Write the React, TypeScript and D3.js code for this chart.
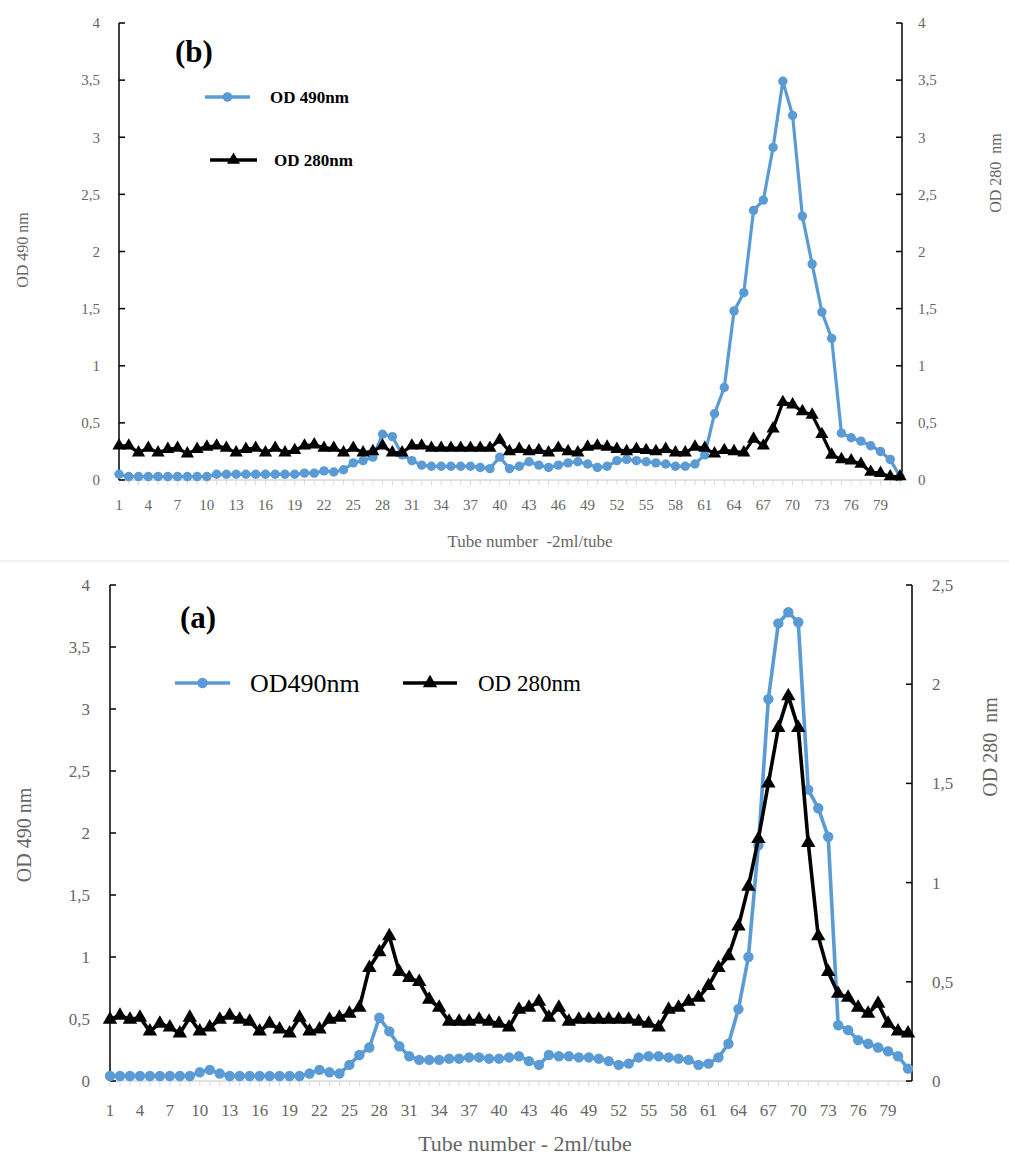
import React, { useEffect, useRef } from 'react';
import * as d3 from 'd3';

// tube numbers 1..81
const tubes = d3.range(1, 82);
const tubeTicks = d3.range(1, 80, 3);

// panel (b) - top
const bOD490 = [
  0.05, 0.03, 0.03, 0.03, 0.03, 0.03, 0.03, 0.03, 0.03, 0.03,
  0.05, 0.05, 0.05, 0.05, 0.05, 0.05, 0.05, 0.05, 0.05, 0.06,
  0.06, 0.08, 0.07, 0.09, 0.15, 0.17, 0.2, 0.4, 0.38, 0.22,
  0.17, 0.13, 0.12, 0.12, 0.12, 0.12, 0.12, 0.11, 0.1, 0.2,
  0.1, 0.12, 0.16, 0.13, 0.11, 0.13, 0.15, 0.16, 0.14, 0.11,
  0.12, 0.17, 0.18, 0.17, 0.16, 0.15, 0.14, 0.12, 0.12, 0.14,
  0.22, 0.58, 0.81, 1.48, 1.64, 2.36, 2.45, 2.91, 3.49, 3.19,
  2.31, 1.89, 1.47, 1.24, 0.41, 0.37, 0.34, 0.3, 0.25, 0.18,
  0.03,
];
const bOD280 = [
  0.3, 0.3, 0.24, 0.28, 0.24, 0.27, 0.28, 0.23, 0.27, 0.29,
  0.3, 0.28, 0.24, 0.27, 0.28, 0.24, 0.28, 0.24, 0.26, 0.3,
  0.31, 0.28, 0.28, 0.24, 0.28, 0.24, 0.25, 0.3, 0.24, 0.24,
  0.3, 0.3, 0.28, 0.28, 0.28, 0.28, 0.28, 0.28, 0.28, 0.35,
  0.25, 0.27, 0.25, 0.26, 0.24, 0.28, 0.25, 0.24, 0.29, 0.3,
  0.29, 0.27, 0.25, 0.27, 0.26, 0.25, 0.27, 0.24, 0.24, 0.29,
  0.28, 0.23, 0.26, 0.25, 0.24, 0.36, 0.3, 0.45, 0.68, 0.66,
  0.6, 0.57, 0.4, 0.22, 0.18, 0.17, 0.14, 0.07, 0.06, 0.03,
  0.03,
];

// panel (a) - bottom
const aOD490 = [
  0.04, 0.04, 0.04, 0.04, 0.04, 0.04, 0.04, 0.04, 0.04, 0.07,
  0.09, 0.06, 0.04, 0.04, 0.04, 0.04, 0.04, 0.04, 0.04, 0.04,
  0.06, 0.09, 0.07, 0.06, 0.13, 0.21, 0.27, 0.51, 0.4, 0.28,
  0.2, 0.17, 0.17, 0.17, 0.18, 0.18, 0.19, 0.19, 0.18, 0.18,
  0.19, 0.2, 0.16, 0.13, 0.21, 0.2, 0.2, 0.19, 0.19, 0.18,
  0.16, 0.13, 0.14, 0.19, 0.2, 0.2, 0.19, 0.18, 0.17, 0.13,
  0.14, 0.19, 0.3, 0.58, 1.0, 1.9, 3.08, 3.69, 3.78, 3.7,
  2.35, 2.2, 1.97, 0.45, 0.41, 0.33, 0.3, 0.27, 0.24, 0.2,
  0.1,
];
const aOD280 = [
  0.31, 0.33, 0.31, 0.32, 0.25, 0.29, 0.27, 0.24, 0.32, 0.25,
  0.27, 0.31, 0.33, 0.31, 0.3, 0.25, 0.29, 0.26, 0.24, 0.32,
  0.25, 0.26, 0.31, 0.32, 0.34, 0.37, 0.57, 0.65, 0.73, 0.55,
  0.52, 0.5, 0.41, 0.37, 0.3, 0.3, 0.3, 0.31, 0.3, 0.29,
  0.27, 0.36, 0.37, 0.4, 0.32, 0.37, 0.3, 0.31, 0.31, 0.31,
  0.31, 0.31, 0.31, 0.3, 0.29, 0.27, 0.36, 0.37, 0.4, 0.42,
  0.48, 0.57, 0.63, 0.78, 0.98, 1.22, 1.5, 1.78, 1.94, 1.78,
  1.2, 0.73, 0.55, 0.44, 0.42, 0.37, 0.34, 0.39, 0.29, 0.25,
  0.24,
];

const leftTicksB = [0, 0.5, 1, 1.5, 2, 2.5, 3, 3.5, 4];
const rightTicksB = [0, 0.5, 1, 1.5, 2, 2.5, 3, 3.5, 4];
const leftTicksA = [0, 0.5, 1, 1.5, 2, 2.5, 3, 3.5, 4];
const rightTicksA = [0, 0.5, 1, 1.5, 2, 2.5];

const BLUE = '#5b9bd5';
const GRAY = '#666';
const FONT = '"Liberation Serif", "Times New Roman", serif';
const fmt = (v: number) => String(v).replace('.', ',');

export default function App() {
  const ref = useRef<SVGSVGElement>(null);

  useEffect(() => {
    const svg = d3.select(ref.current);
    svg.selectAll('*').remove();

    // faint separator between panels
    svg.append('line').attr('x1', 0).attr('x2', 1009).attr('y1', 561).attr('y2', 561)
      .attr('stroke', '#eee').attr('stroke-width', 1.5);

    const panels = [
      {
        od490: bOD490, od280: bOD280, leftTicks: leftTicksB, rightTicks: rightTicksB,
        x0: 119, x1: 900, axR: 902, yBottom: 480, yTop: 23, rightMax: 4,
        tickFont: 15, lw: 3.2, r: 4.7, tri: 75,
        leftLabelX: 100, rightLabelX: 918, xLabelY: 510,
        yTitle: { x: 22, y: 250, x2: 995, y2: 173, size: 16 },
        xTitle: { x: 530, y: 547, size: 17, text: 'Tube number  -2ml/tube' },
        tag: { x: 175, y: 62, text: '(b)' },
      },
      {
        od490: aOD490, od280: aOD280, leftTicks: leftTicksA, rightTicks: rightTicksA,
        x0: 110, x1: 908, axR: 912, yBottom: 1081, yTop: 585, rightMax: 2.5,
        tickFont: 17, lw: 3.6, r: 5.2, tri: 90,
        leftLabelX: 90, rightLabelX: 932, xLabelY: 1116,
        yTitle: { x: 24, y: 835, x2: 990, y2: 747, size: 20 },
        xTitle: { x: 525, y: 1151, size: 22, text: 'Tube number - 2ml/tube' },
        tag: { x: 180, y: 628, text: '(a)' },
      },
    ];

    panels.forEach((p) => {
      const g = svg.append('g');
      const x = d3.scaleLinear().domain([1, 81]).range([p.x0, p.x1]);
      const yL = d3.scaleLinear().domain([0, 4]).range([p.yBottom, p.yTop]);
      const yR = d3.scaleLinear().domain([0, p.rightMax]).range([p.yBottom, p.yTop]);

      // x axis: light gray line with a tick at each tube
      g.append('line').attr('x1', p.x0).attr('x2', p.axR)
        .attr('y1', p.yBottom).attr('y2', p.yBottom).attr('stroke', '#d9d9d9').attr('stroke-width', 1.5);
      g.selectAll('.xt').data(tubes).enter().append('line')
        .attr('x1', (d) => x(d)).attr('x2', (d) => x(d))
        .attr('y1', p.yBottom).attr('y2', p.yBottom + 5)
        .attr('stroke', '#d9d9d9');
      g.selectAll('.xl').data(tubeTicks).enter().append('text')
        .attr('x', (d) => x(d)).attr('y', p.xLabelY)
        .attr('text-anchor', 'middle').attr('font-family', FONT)
        .attr('font-size', p.tickFont).attr('fill', GRAY)
        .text((d) => d);

      // left axis
      g.append('line').attr('x1', p.x0).attr('x2', p.x0)
        .attr('y1', p.yTop).attr('y2', p.yBottom).attr('stroke', '#000').attr('stroke-width', 1.5);
      g.selectAll('.lt').data(p.leftTicks).enter().append('line')
        .attr('x1', p.x0).attr('x2', p.x0 + 6)
        .attr('y1', (d) => yL(d)).attr('y2', (d) => yL(d)).attr('stroke', '#000').attr('stroke-width', 1.5);
      g.selectAll('.ll').data(p.leftTicks).enter().append('text')
        .attr('x', p.leftLabelX).attr('y', (d) => yL(d)).attr('dy', '0.35em')
        .attr('text-anchor', 'end').attr('font-family', FONT)
        .attr('font-size', p.tickFont).attr('fill', GRAY)
        .text((d) => fmt(d));

      // right axis
      g.append('line').attr('x1', p.axR).attr('x2', p.axR)
        .attr('y1', p.yTop).attr('y2', p.yBottom).attr('stroke', '#000').attr('stroke-width', 1.5);
      g.selectAll('.rt').data(p.rightTicks).enter().append('line')
        .attr('x1', p.axR - 6).attr('x2', p.axR)
        .attr('y1', (d) => yR(d)).attr('y2', (d) => yR(d)).attr('stroke', '#000').attr('stroke-width', 1.5);
      g.selectAll('.rl').data(p.rightTicks).enter().append('text')
        .attr('x', p.rightLabelX).attr('y', (d) => yR(d)).attr('dy', '0.35em')
        .attr('text-anchor', 'start').attr('font-family', FONT)
        .attr('font-size', p.tickFont).attr('fill', GRAY)
        .text((d) => fmt(d));

      // axis titles
      g.append('text')
        .attr('transform', `translate(${p.yTitle.x},${p.yTitle.y}) rotate(-90)`)
        .attr('text-anchor', 'middle').attr('dy', '0.35em')
        .attr('font-family', FONT).attr('font-size', p.yTitle.size).attr('fill', GRAY)
        .text('OD 490 nm');
      g.append('text')
        .attr('transform', `translate(${p.yTitle.x2},${p.yTitle.y2}) rotate(-90)`)
        .attr('text-anchor', 'middle').attr('dy', '0.35em')
        .attr('font-family', FONT).attr('font-size', p.yTitle.size).attr('fill', GRAY)
        .style('white-space', 'pre')
        .text('OD 280  nm');
      g.append('text')
        .attr('x', p.xTitle.x).attr('y', p.xTitle.y).attr('text-anchor', 'middle')
        .attr('font-family', FONT).attr('font-size', p.xTitle.size).attr('fill', GRAY)
        .style('white-space', 'pre')
        .text(p.xTitle.text);

      // series
      const lineL = d3.line<number>().x((_, i) => x(tubes[i])).y((d) => yL(d));
      const lineR = d3.line<number>().x((_, i) => x(tubes[i])).y((d) => yR(d));

      g.append('path').datum(p.od490).attr('d', lineL)
        .attr('fill', 'none').attr('stroke', BLUE).attr('stroke-width', p.lw).attr('stroke-linejoin', 'round');
      g.selectAll('.c').data(p.od490).enter().append('circle')
        .attr('cx', (_, i) => x(tubes[i])).attr('cy', (d) => yL(d))
        .attr('r', p.r).attr('fill', BLUE);

      g.append('path').datum(p.od280).attr('d', lineR)
        .attr('fill', 'none').attr('stroke', '#000').attr('stroke-width', p.lw).attr('stroke-linejoin', 'round');
      const tri = d3.symbol().type(d3.symbolTriangle).size(p.tri);
      g.selectAll('.t').data(p.od280).enter().append('path')
        .attr('d', tri)
        .attr('transform', (d, i) => `translate(${x(tubes[i])},${yR(d)})`)
        .attr('fill', '#000');

      // panel tag
      g.append('text').attr('x', p.tag.x).attr('y', p.tag.y)
        .attr('font-family', FONT).attr('font-size', 31).attr('font-weight', 'bold')
        .text(p.tag.text);
    });

    // legends
    const legend = (lx0: number, lx1: number, ly: number, kind: 'c' | 't', r: number, tx: number, size: number, bold: boolean, label: string, color: string) => {
      svg.append('line').attr('x1', lx0).attr('x2', lx1).attr('y1', ly).attr('y2', ly)
        .attr('stroke', color).attr('stroke-width', 3.5);
      const cx = (lx0 + lx1) / 2;
      if (kind === 'c') {
        svg.append('circle').attr('cx', cx).attr('cy', ly).attr('r', r).attr('fill', color);
      } else {
        svg.append('path').attr('d', d3.symbol().type(d3.symbolTriangle).size(r)())
          .attr('transform', `translate(${cx},${ly})`).attr('fill', color);
      }
      svg.append('text').attr('x', tx).attr('y', ly).attr('dy', '0.35em')
        .attr('font-family', FONT).attr('font-size', size)
        .attr('font-weight', bold ? 'bold' : 'normal').attr('fill', '#000')
        .text(label);
    };
    legend(205, 250, 97, 'c', 4.8, 270, 17, true, 'OD 490nm', BLUE);
    legend(210, 257, 160, 't', 75, 274, 17, true, 'OD 280nm', '#000');
    legend(175, 230, 683, 'c', 5.2, 250, 26, false, 'OD490nm', BLUE);
    legend(403, 457, 683, 't', 90, 478, 23, false, 'OD 280nm', '#000');
  }, []);

  return (
    <svg
      ref={ref}
      width={1009}
      height={1160}
      style={{ display: 'block', position: 'absolute', left: 0, top: 0 }}
    />
  );
}
